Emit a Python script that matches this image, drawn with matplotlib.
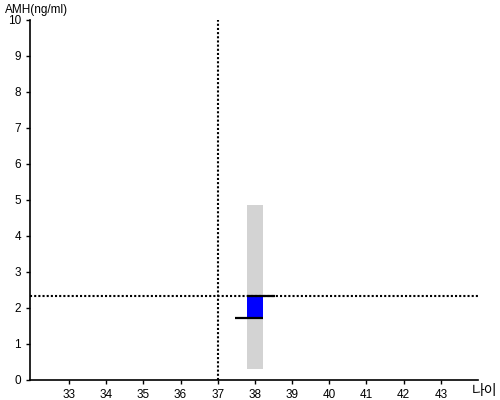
import matplotlib
matplotlib.use('Agg')
import matplotlib.pyplot as plt

# data
age = 38
amh_value = 2.34
ref_low, ref_high = 0.31, 4.87        # gray normal range
blue_low, blue_high = 1.73, 2.34      # blue band
upper_mark = (37.78, 38.54, 2.34)     # black marker lines (x0, x1, y)
lower_mark = (37.46, 38.22, 1.73)
age_line = 37
x_ticks = list(range(33, 44))
y_ticks = list(range(0, 11))

plt.rcParams['font.family'] = ['Liberation Sans', 'Noto Sans CJK KR', 'DejaVu Sans']

fig = plt.figure(figsize=(5, 4), dpi=100)
ax = fig.add_axes([0.06, 0.05, 0.896, 0.9])

bw = 0.43
ax.bar(age, ref_high - ref_low, bottom=ref_low, width=bw, color='#d3d3d3', zorder=1)
ax.bar(age, blue_high - blue_low, bottom=blue_low, width=bw, color='#0000ff', zorder=2)

ax.axvline(age_line, color='black', ls=(0, (1, 1)), lw=1.5, zorder=3)
ax.axhline(amh_value, color='black', ls=(0, (1, 1)), lw=1.5, zorder=3)

for x0, x1, y in (upper_mark, lower_mark):
    ax.plot([x0, x1], [y, y], color='black', lw=1.6, zorder=4, solid_capstyle='butt')

ax.set_xlim(31.95, 44)
ax.set_ylim(0, 10)
ax.set_xticks(x_ticks)
ax.set_yticks(y_ticks)
ax.tick_params(labelsize=8.5, length=3, width=1)
for s in ('top', 'right'):
    ax.spines[s].set_visible(False)
for s in ('left', 'bottom'):
    ax.spines[s].set_linewidth(1.2)

fig.text(0.01, 0.975, 'AMH(ng/ml)', fontsize=8.5, va='center', ha='left')
fig.text(0.97, 0.022, '나이', fontsize=10, va='center', ha='center')

plt.savefig('out.png', dpi=100)
